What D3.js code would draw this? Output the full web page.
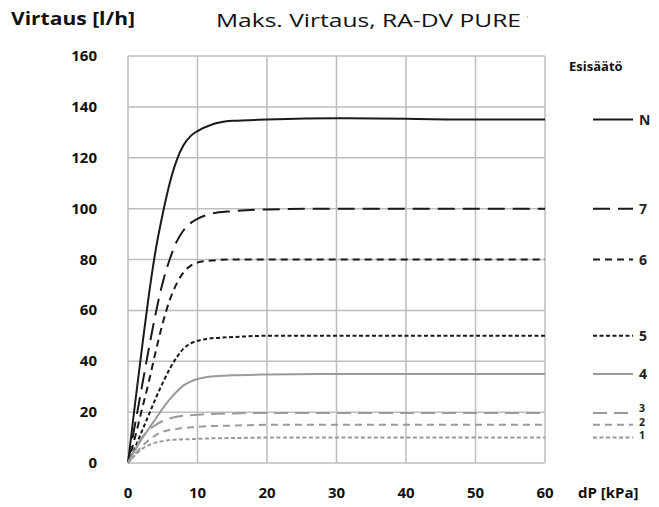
<!DOCTYPE html>
<html>
<head>
<meta charset="utf-8">
<script src="https://cdn.jsdelivr.net/npm/d3@7"></script>
<style>
  body { margin: 0; background: #fff; }
  text { font-family: "Open Sans", sans-serif; }
</style>
</head>
<body>
<div id="chart"></div>
<script>
// pressure difference points (kPa)
var dp = [0, 1, 2, 3, 4, 5, 6, 7, 8, 9, 10, 12, 15, 20, 30, 40, 50, 60]

// flow (l/h) per presetting
var flowN = [0, 23, 45, 66, 84, 98, 110, 119, 125, 128.5, 130.5, 133, 134.5, 135, 135.5, 135.3, 135, 135]
var flow7 = [0, 15, 30, 45, 59, 71, 80, 87, 91.5, 94.3, 96, 98, 99, 99.7, 100, 100, 100, 100]
var flow6 = [0, 10, 21, 32, 44, 55, 64, 70.5, 75, 77.5, 78.8, 79.6, 80, 80, 80, 80, 80, 80]
var flow5 = [0, 6, 12.5, 19, 25.5, 31.5, 37, 41.5, 45, 47, 48, 49, 49.5, 50, 50, 50, 50, 50]
var flow4 = [0, 5, 9.5, 13.5, 17.5, 21.5, 25, 28, 30.5, 32, 33, 34, 34.5, 34.8, 35, 35, 35, 35]
var flow3 = [0, 5.5, 10, 13, 15, 16.5, 17.5, 18.2, 18.6, 18.8, 19, 19.3, 19.5, 19.7, 19.7, 19.7, 19.7, 19.7]
var flow2 = [0, 3.5, 6.5, 9, 11, 12.3, 13, 13.4, 13.8, 14, 14.2, 14.5, 14.7, 15, 15, 15, 15, 15]
var flow1 = [0, 3, 5.5, 7, 8, 8.6, 9, 9.2, 9.3, 9.4, 9.5, 9.7, 9.8, 10, 10, 10, 10, 10]

var seriesNames = ["N", "7", "6", "5", "4", "3", "2", "1"]
var seriesValues = [flowN, flow7, flow6, flow5, flow4, flow3, flow2, flow1]

var xTicks = [0, 10, 20, 30, 40, 50, 60]
var yTicks = [0, 20, 40, 60, 80, 100, 120, 140, 160]

// line styles per series (same order as seriesNames)
var styles = [
  {color: "#1a1a1a", width: 2, dash: null},
  {color: "#1a1a1a", width: 2, dash: "17,8"},
  {color: "#1a1a1a", width: 2, dash: "7,5"},
  {color: "#1a1a1a", width: 2, dash: "4,2.5"},
  {color: "#9a9a9a", width: 2, dash: null},
  {color: "#9a9a9a", width: 2, dash: "14,7"},
  {color: "#9a9a9a", width: 2, dash: "7,5"},
  {color: "#9a9a9a", width: 2, dash: "4,2.5"}
]

var W = 659, H = 507
var svg = d3.select("#chart").append("svg")
  .attr("width", W)
  .attr("height", H)

var x = d3.scaleLinear().domain([0, 60]).range([128, 545])
var y = d3.scaleLinear().domain([0, 160]).range([463, 56])

// grid
svg.append("g").selectAll("line")
  .data(xTicks)
  .enter().append("line")
  .attr("x1", function(d){ return x(d) })
  .attr("x2", function(d){ return x(d) })
  .attr("y1", y(0))
  .attr("y2", y(160))
  .attr("stroke", "#bdbdbd")
  .attr("stroke-width", 1.5)

svg.append("g").selectAll("line")
  .data(yTicks)
  .enter().append("line")
  .attr("x1", x(0))
  .attr("x2", x(60))
  .attr("y1", function(d){ return y(d) })
  .attr("y2", function(d){ return y(d) })
  .attr("stroke", "#bdbdbd")
  .attr("stroke-width", 1.5)

// tick labels
svg.append("g").selectAll("text")
  .data(yTicks)
  .enter().append("text")
  .attr("x", 97)
  .attr("y", function(d){ return y(d) + 5 })
  .attr("text-anchor", "end")
  .attr("font-size", 15)
  .attr("font-weight", "bold")
  .attr("fill", "#111")
  .text(function(d){ return d })

svg.append("g").selectAll("text")
  .data(xTicks)
  .enter().append("text")
  .attr("x", function(d){ return x(d) })
  .attr("y", 498)
  .attr("text-anchor", "middle")
  .attr("font-size", 15)
  .attr("font-weight", "bold")
  .attr("fill", "#111")
  .text(function(d){ return d })

svg.append("text")
  .attr("x", 578)
  .attr("y", 498)
  .attr("font-size", 15)
  .attr("font-weight", "bold")
  .attr("fill", "#111")
  .text("dP [kPa]")

// titles
svg.append("text")
  .attr("x", 11)
  .attr("y", 25)
  .attr("font-size", 17)
  .attr("font-weight", "bold")
  .attr("fill", "#111")
  .attr("textLength", 124)
  .attr("lengthAdjust", "spacingAndGlyphs")
  .text("Virtaus [l/h]")

svg.append("text")
  .attr("x", 216)
  .attr("y", 27)
  .attr("font-size", 19)
  .attr("fill", "#111")
  .attr("textLength", 305)
  .attr("lengthAdjust", "spacingAndGlyphs")
  .text("Maks. Virtaus, RA-DV PURE")

// title is cut off in the original, only a sliver of the next glyph shows
svg.append("clipPath").attr("id", "titleclip")
  .append("rect").attr("x", 526).attr("y", 0).attr("width", 2).attr("height", 40)

svg.append("text")
  .attr("clip-path", "url(#titleclip)")
  .attr("x", 525.5)
  .attr("y", 27)
  .attr("font-size", 19)
  .attr("fill", "#555")
  .text("1")

// curves
var line = d3.line()
  .x(function(d){ return x(d[0]) })
  .y(function(d){ return y(d[1]) })
  .curve(d3.curveMonotoneX)

var curves = svg.append("g")
seriesValues.forEach(function(vals, i){
  var pts = dp.map(function(p, j){ return [p, vals[j]] })
  curves.append("path")
    .attr("d", line(pts))
    .attr("fill", "none")
    .attr("stroke", styles[i].color)
    .attr("stroke-width", styles[i].width)
    .attr("stroke-dasharray", styles[i].dash)
})

// legend
svg.append("text")
  .attr("x", 569)
  .attr("y", 71)
  .attr("font-size", 13)
  .attr("font-weight", "bold")
  .attr("fill", "#111")
  .text("Esisäätö")

var labelY = [null, null, null, null, null, 412, 425.5, 439]
var legend = svg.append("g")
seriesValues.forEach(function(vals, i){
  var ly = y(vals[vals.length - 1])
  legend.append("line")
    .attr("x1", 593)
    .attr("x2", 633)
    .attr("y1", ly)
    .attr("y2", ly)
    .attr("stroke", styles[i].color)
    .attr("stroke-width", styles[i].width)
    .attr("stroke-dasharray", styles[i].dash)
  legend.append("text")
    .attr("x", 639)
    .attr("y", labelY[i] ? labelY[i] : ly + 5)
    .attr("font-size", i >= 5 ? 10.5 : 14)
    .attr("font-weight", "bold")
    .attr("fill", "#222")
    .text(seriesNames[i])
})
</script>
</body>
</html>
